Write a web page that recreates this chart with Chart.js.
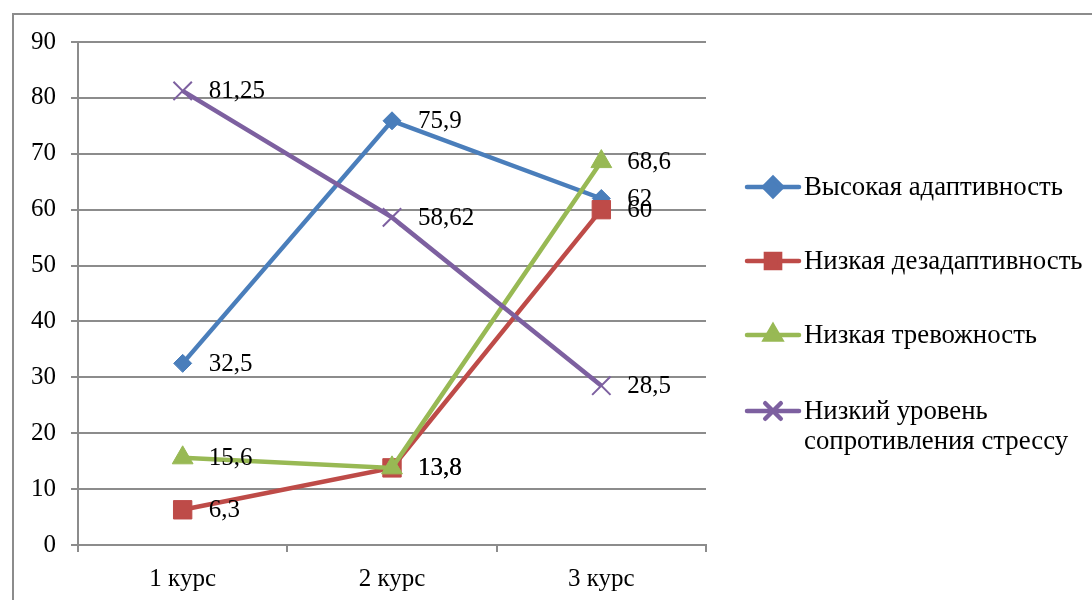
<!DOCTYPE html>
<html>
<head>
<meta charset="utf-8">
<script src="https://cdn.jsdelivr.net/npm/chart.js@4/dist/chart.umd.min.js"></script>
<style>
  html, body { margin: 0; padding: 0; background: #fff; }
  #wrap { width: 1092px; height: 600px; position: relative; }
</style>
</head>
<body>
<div id="wrap"><canvas id="c" width="1092" height="600"></canvas></div>
<script>
// Categories and series
const courses = ['1 курс', '2 курс', '3 курс'];
const highAdaptivity = [32.5, 75.9, 62];
const lowMaladaptivity = [6.3, 13.8, 60];
const lowAnxiety = [15.6, 13.8, 68.6];
const lowStressResistance = [81.25, 58.62, 28.5];

const seriesNames = [
  'Высокая адаптивность',
  'Низкая дезадаптивность',
  'Низкая тревожность',
  ['Низкий уровень', 'сопротивления стрессу']
];

const SERIF = '"Liberation Serif", "Times New Roman", serif';
const GRID = '#8c8c8c';

const styles = [
  { color: '#4A7EBB', point: 'rectRot', radius: 9, legendRadius: 9, pbw: 1 },
  { color: '#BE4B48', point: 'rect', radius: 13, legendRadius: 10, pbw: 1 },
  { color: '#98B954', point: 'triangle', radius: 12, legendRadius: 9, pbw: 1 },
  { color: '#7D60A0', point: 'crossRot', radius: 13, legendRadius: 11, pbw: 2 }
];
const seriesValues = [highAdaptivity, lowMaladaptivity, lowAnxiety, lowStressResistance];

const datasets = seriesValues.map((vals, i) => ({
  label: Array.isArray(seriesNames[i]) ? seriesNames[i].join(' ') : seriesNames[i],
  data: vals,
  borderColor: styles[i].color,
  backgroundColor: styles[i].color,
  borderWidth: 4.5,
  tension: 0,
  pointStyle: styles[i].point,
  pointRadius: styles[i].radius,
  pointHoverRadius: styles[i].radius,
  pointBorderWidth: styles[i].pbw,
  pointBackgroundColor: styles[i].color,
  pointBorderColor: styles[i].color,
  order: 4 - i
}));

// Outer frame of the chart object
const framePlugin = {
  id: 'frame',
  beforeDraw(chart) {
    const ctx = chart.ctx;
    ctx.save();
    ctx.fillStyle = '#fff';
    ctx.fillRect(0, 0, chart.width, chart.height);
    ctx.strokeStyle = GRID;
    ctx.lineWidth = 2;
    ctx.beginPath();
    ctx.moveTo(13, chart.height + 2);
    ctx.lineTo(13, 14);
    ctx.lineTo(chart.width + 2, 14);
    ctx.stroke();
    ctx.restore();
  }
};

// Value labels to the right of each point
const valueLabels = {
  id: 'valueLabels',
  afterDatasetsDraw(chart) {
    const ctx = chart.ctx;
    ctx.save();
    ctx.font = '25px ' + SERIF;
    ctx.fillStyle = '#000';
    ctx.textAlign = 'left';
    ctx.textBaseline = 'middle';
    chart.data.datasets.forEach((ds, di) => {
      const meta = chart.getDatasetMeta(di);
      meta.data.forEach((pt, i) => {
        const txt = String(ds.data[i]).replace('.', ',');
        ctx.fillText(txt, pt.x + 26, pt.y + 1);
      });
    });
    ctx.restore();
  }
};

// Legend on the right
const sideLegend = {
  id: 'sideLegend',
  afterDraw(chart) {
    const ctx = chart.ctx;
    const rows = [187, 261, 335, 411];
    ctx.save();
    ctx.font = '26.8px ' + SERIF;
    ctx.textAlign = 'left';
    ctx.textBaseline = 'middle';
    seriesNames.forEach((name, i) => {
      const y = rows[i];
      const st = styles[i];
      ctx.strokeStyle = st.color;
      ctx.lineWidth = 4.5;
      ctx.lineCap = 'round';
      ctx.beginPath();
      ctx.moveTo(747, y);
      ctx.lineTo(799, y);
      ctx.stroke();
      ctx.fillStyle = st.color;
      Chart.helpers.drawPoint(ctx, {
        pointStyle: st.point,
        radius: st.legendRadius,
        rotation: 0,
        borderWidth: st.pbw
      }, 773, y);
      ctx.fillStyle = '#000';
      const lines = Array.isArray(name) ? name : [name];
      lines.forEach((ln, k) => ctx.fillText(ln, 804, y + 1 + k * 30));
    });
    ctx.restore();
  }
};

new Chart(document.getElementById('c'), {
  type: 'line',
  data: { labels: courses, datasets },
  options: {
    responsive: false,
    animation: false,
    devicePixelRatio: 1,
    layout: { padding: { left: 0, right: 386, top: 42, bottom: 0 } },
    plugins: { legend: { display: false }, tooltip: { enabled: false } },
    scales: {
      x: {
        offset: true,
        afterFit(scale) { scale.height = 55; },
        grid: {
          offset: true,
          drawOnChartArea: false,
          drawTicks: true,
          tickLength: 7,
          color: GRID,
          lineWidth: 2
        },
        border: { color: GRID, width: 2 },
        ticks: {
          color: '#000',
          font: { family: SERIF, size: 25 },
          padding: 12
        }
      },
      y: {
        min: 0,
        max: 90,
        afterFit(scale) { scale.width = 78; },
        grid: {
          color: GRID,
          lineWidth: 2,
          drawTicks: true,
          tickLength: 7
        },
        border: { color: GRID, width: 2 },
        ticks: {
          stepSize: 10,
          color: '#000',
          font: { family: SERIF, size: 25 },
          padding: 15
        }
      }
    }
  },
  plugins: [framePlugin, valueLabels, sideLegend]
});
</script>
</body>
</html>
